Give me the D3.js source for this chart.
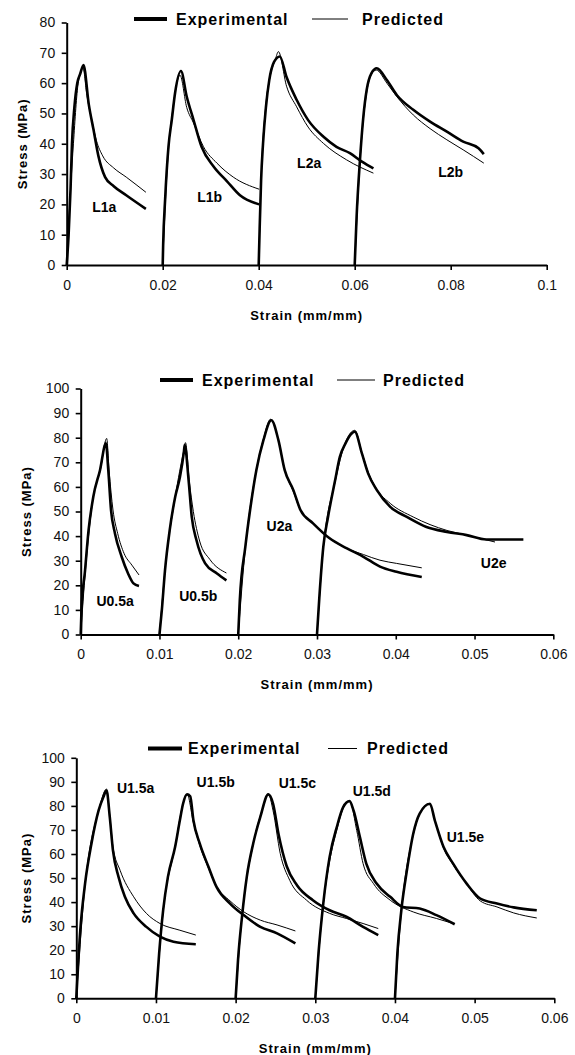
<!DOCTYPE html>
<html>
<head>
<meta charset="utf-8">
<script src="https://cdn.jsdelivr.net/npm/d3@7/dist/d3.min.js"></script>
<style>
    body { margin: 0; background: #fff; }
    svg { display: block; font-family: "Liberation Sans", Arial, sans-serif; }
</style>
</head>
<body>
<svg width="575" height="1055"></svg>
<script>
/* global d3 */

// ---- tick values ----
const xTicksTop = [0, 0.02, 0.04, 0.06, 0.08, 0.1];
const yTicksTop = [0, 10, 20, 30, 40, 50, 60, 70, 80];
const xTicksMid = [0, 0.01, 0.02, 0.03, 0.04, 0.05, 0.06];
const yTicksMid = [0, 10, 20, 30, 40, 50, 60, 70, 80, 90, 100];
const xTicksBot = [0, 0.01, 0.02, 0.03, 0.04, 0.05, 0.06];
const yTicksBot = [0, 10, 20, 30, 40, 50, 60, 70, 80, 90, 100];

// ---- [strain, stress] pairs, experimental + predicted ----
const l1aExp = [[0, 0], [0.0004, 10], [0.0008, 25], [0.0011, 40], [0.0016, 52], [0.0022, 60], [0.0028, 63], [0.0035, 66], [0.0046, 53], [0.0056, 44.5], [0.0066, 36], [0.008, 29], [0.0098, 26], [0.0124, 23], [0.0165, 18.5]];
const l1aPred = [[0, 0], [0.0003, 10], [0.0014, 40], [0.0024, 60], [0.0034, 65], [0.0042, 56], [0.0052, 48], [0.0062, 41], [0.0075, 36], [0.0098, 32], [0.0124, 29], [0.0165, 24]];
const l1bExp = [[0.02, 0], [0.0201, 7], [0.0205, 21.5], [0.0212, 39], [0.0219, 48], [0.0226, 57], [0.0238, 64], [0.025, 55.6], [0.0264, 48], [0.0281, 39], [0.0306, 32.5], [0.0334, 27.6], [0.0361, 23], [0.0401, 20]];
const l1bPred = [[0.02, 0], [0.0206, 22], [0.0213, 40], [0.022, 50], [0.0227, 58], [0.0236, 62.6], [0.025, 52], [0.0264, 46.9], [0.0285, 39], [0.0313, 33.6], [0.0347, 29], [0.0401, 25]];
const l2aExp = [[0.04, 0], [0.0402, 12], [0.0405, 28], [0.0409, 40], [0.0415, 52], [0.0422, 61], [0.0432, 67], [0.0444, 68.8], [0.0458, 62], [0.0479, 54.5], [0.0503, 47.8], [0.0535, 42.3], [0.0562, 39], [0.059, 36.9], [0.0615, 34.1], [0.0639, 31.9]];
const l2aPred = [[0.04, 0], [0.0405, 28], [0.0415, 53], [0.0425, 63], [0.0435, 68], [0.0441, 70.4], [0.0458, 59], [0.0479, 52.2], [0.0503, 45.5], [0.0535, 40.1], [0.0583, 34.7], [0.0639, 30.3]];
const l2bExp = [[0.06, 0], [0.0604, 16], [0.0611, 34.7], [0.0618, 48.9], [0.0625, 57.8], [0.0635, 63.3], [0.0646, 64.9], [0.0667, 61], [0.0688, 56], [0.0722, 51.2], [0.0757, 47.3], [0.0792, 44], [0.0826, 40.7], [0.0858, 38.5], [0.0869, 36.6]];
const l2bPred = [[0.06, 0], [0.0611, 34], [0.0625, 57], [0.0635, 63], [0.0645, 64.3], [0.0667, 60], [0.0688, 55.5], [0.0722, 49.5], [0.0757, 45], [0.0792, 41.3], [0.0826, 38], [0.0869, 33.6]];

const u05aExp = [[0, 0], [0.0001, 9.9], [0.00055, 26], [0.001, 42.4], [0.0016, 56], [0.00245, 66.8], [0.0032, 77.7], [0.0035, 66.9], [0.00385, 50.6], [0.00435, 41.1], [0.0052, 31.6], [0.006, 24.9], [0.0067, 20.8], [0.0074, 19.7]];
const u05aPred = [[0, 0], [0.0006, 26], [0.0016, 56], [0.0025, 67], [0.0033, 79.7], [0.0036, 66.9], [0.0041, 50.6], [0.0047, 41], [0.0055, 33], [0.0065, 28.2], [0.0074, 24.2]];
const u05bExp = [[0.01, 0], [0.0103, 9.9], [0.0107, 26], [0.0113, 42.4], [0.012, 56], [0.0126, 64], [0.0131, 74.2], [0.0132, 77], [0.0137, 62.7], [0.0141, 47.8], [0.0147, 38.3], [0.0158, 28.9], [0.0173, 24.8], [0.0185, 22]];
const u05bPred = [[0.01, 0], [0.0107, 26], [0.012, 56], [0.0131, 75], [0.0133, 78], [0.0138, 62], [0.0143, 50], [0.0151, 38], [0.0164, 30.5], [0.0185, 25]];
const u2aExp = [[0.02, 0], [0.0202, 14], [0.0209, 35.6], [0.0215, 50.5], [0.0223, 66.8], [0.0232, 79], [0.0242, 87.1], [0.0251, 79], [0.0259, 66.8], [0.027, 58.7], [0.0279, 50.6], [0.0295, 45.2], [0.0316, 39.1], [0.0338, 35], [0.0359, 31.6], [0.038, 27.6], [0.0401, 25.5], [0.0433, 23.4]];
const u2aPred = [[0.02, 0], [0.0209, 35], [0.0223, 67], [0.0232, 79.5], [0.0241, 87.5], [0.0251, 79], [0.0259, 67], [0.027, 58], [0.0279, 50.5], [0.0295, 45], [0.0316, 39], [0.0338, 35], [0.0359, 32.5], [0.038, 30.2], [0.0401, 28.9], [0.0433, 27.1]];
const u2eExp = [[0.03, 0], [0.0303, 15.2], [0.0308, 35.6], [0.0314, 47.8], [0.0323, 62.7], [0.0329, 72.2], [0.0336, 77.6], [0.0344, 81.7], [0.0348, 82.4], [0.0357, 73.6], [0.0365, 65.4], [0.0376, 58.7], [0.0393, 51.9], [0.0414, 47.8], [0.0439, 43.7], [0.0465, 41.7], [0.049, 40.4], [0.0515, 38.6], [0.0562, 38.6]];
const u2ePred = [[0.03, 0], [0.0308, 35], [0.0323, 62], [0.0336, 78], [0.0348, 83], [0.0357, 74], [0.0365, 66], [0.0376, 59], [0.0393, 53.3], [0.0422, 47.8], [0.0465, 42.3], [0.049, 40.4], [0.0526, 37.6]];

const u15aExp = [[0, 0], [0.0005, 28.3], [0.0011, 47.7], [0.0019, 64.3], [0.0028, 78.1], [0.0034, 83.7], [0.0038, 86.4], [0.0042, 75.4], [0.0046, 61.5], [0.0053, 50.5], [0.0061, 42.2], [0.0072, 35.3], [0.0088, 29.7], [0.0105, 25.6], [0.0122, 23.5], [0.015, 22.5]];
const u15aPred = [[0, 0], [0.0011, 47], [0.0028, 78], [0.0038, 87], [0.0042, 76], [0.0046, 63], [0.0055, 53.2], [0.0072, 42.2], [0.0088, 35.3], [0.0105, 31.1], [0.013, 28.3], [0.015, 26.3]];
const u15bExp = [[0.01, 0], [0.0104, 18.7], [0.0109, 36.6], [0.0115, 50.5], [0.0124, 62.9], [0.013, 74], [0.0134, 80.9], [0.0139, 84.8], [0.0143, 84], [0.0147, 74], [0.0155, 64.3], [0.0166, 54.6], [0.0176, 46.3], [0.0193, 39.4], [0.021, 34.6], [0.0231, 29.7], [0.0252, 27], [0.0275, 22.8]];
const u15bPred = [[0.01, 0], [0.0109, 36], [0.0124, 63], [0.0134, 81], [0.0139, 85], [0.0147, 73], [0.0155, 63.5], [0.0166, 54], [0.0176, 46.5], [0.0193, 40.5], [0.021, 36], [0.0231, 32.5], [0.0252, 30.5], [0.0275, 28]];
const u15cExp = [[0.02, 0], [0.0203, 15.9], [0.0208, 33.9], [0.0214, 50.5], [0.0222, 64.3], [0.0231, 75.4], [0.0241, 84.8], [0.0247, 80.9], [0.0254, 68], [0.0264, 55], [0.0277, 47], [0.0297, 40.8], [0.0318, 36.6], [0.0339, 33.9], [0.036, 29.7], [0.0379, 26.3]];
const u15cPred = [[0.02, 0], [0.0208, 34], [0.0222, 64], [0.0233, 78], [0.0241, 85], [0.0247, 78], [0.0256, 60.2], [0.0268, 49], [0.0289, 40.8], [0.0318, 35.3], [0.0339, 33.2], [0.036, 31.1], [0.0379, 29]];
const u15dExp = [[0.03, 0], [0.0304, 18.7], [0.031, 39.4], [0.0318, 58.8], [0.0327, 71.2], [0.0335, 79.5], [0.0343, 82], [0.0348, 78.1], [0.0356, 67], [0.0364, 56], [0.0377, 47.7], [0.0394, 42.2], [0.041, 38], [0.0431, 37.3], [0.0452, 34.6], [0.0475, 30.8]];
const u15dPred = [[0.03, 0], [0.031, 39], [0.0318, 57], [0.0327, 70], [0.0335, 79], [0.0343, 82], [0.0352, 69.8], [0.036, 56], [0.0373, 47.7], [0.0394, 40.8], [0.0423, 35.9], [0.0452, 33.2], [0.0473, 31.1]];
const u15eExp = [[0.04, 0], [0.0403, 18.7], [0.0408, 36.6], [0.0415, 53.2], [0.0423, 68.5], [0.0431, 76.8], [0.0444, 80.9], [0.045, 74], [0.0461, 62.9], [0.0473, 56], [0.049, 47.7], [0.0507, 41.5], [0.0528, 39.4], [0.0549, 37.8], [0.0578, 36.6]];
const u15ePred = [[0.04, 0], [0.0408, 36], [0.0423, 68], [0.0433, 78], [0.0443, 81], [0.045, 74], [0.0461, 62.5], [0.0473, 55.5], [0.049, 47.5], [0.0507, 40.5], [0.0528, 38], [0.0549, 35.5], [0.0578, 33.4]];

const namesTop = ["L1a", "L1b", "L2a", "L2b"];
const namesMid = ["U0.5a", "U0.5b", "U2a", "U2e"];
const namesBot = ["U1.5a", "U1.5b", "U1.5c", "U1.5d", "U1.5e"];

const FONT_TICK = 14;
const FONT_LABEL = 14;

// layout of the three stacked plots (pixels), label anchors in data units
const panels = [
    {
        left: 66.7, right: 546.7, top: 22.5, bottom: 265,
        xMax: 0.1, yMax: 80, xTicks: xTicksTop, yTicks: yTicksTop,
        exp: [l1aExp, l1bExp, l2aExp, l2bExp],
        pred: [l1aPred, l1bPred, l2aPred, l2bPred],
        names: namesTop,
        labelAt: [[0.0053, 19.1], [0.0272, 22.4], [0.048, 33.7], [0.0774, 30.7]],
        legend: { y: 19, exp: [134, 167, 176], pred: [312, 348, 362] },
        yTitleX: 22,
    },
    {
        left: 80.7, right: 553.3, top: 388.5, bottom: 634.5,
        xMax: 0.06, yMax: 100, xTicks: xTicksMid, yTicks: yTicksMid,
        exp: [u05aExp, u05bExp, u2aExp, u2eExp],
        pred: [u05aPred, u05bPred, u2aPred, u2ePred],
        names: namesMid,
        labelAt: [[0.002, 13.4], [0.0125, 15.8], [0.0236, 43.9], [0.0508, 29]],
        legend: { y: 380, exp: [160, 193, 202], pred: [337, 375, 383] },
        yTitleX: 26.5,
    },
    {
        left: 76.3, right: 554.3, top: 757.8, bottom: 998.3,
        xMax: 0.06, yMax: 100, xTicks: xTicksBot, yTicks: yTicksBot,
        exp: [u15aExp, u15bExp, u15cExp, u15dExp, u15eExp],
        pred: [u15aPred, u15bPred, u15cPred, u15dPred, u15ePred],
        names: namesBot,
        labelAt: [[0.0051, 87.3], [0.0151, 90], [0.0254, 89.5], [0.0347, 86.2], [0.0465, 67.2]],
        legend: { y: 748.5, exp: [148, 182, 188], pred: [328, 357, 367] },
        yTitleX: 26,
    },
];

const svg = d3.select("svg");

function styleAxis(g) {
    g.attr("font-family", null).attr("font-size", null);
    g.select(".domain").attr("stroke", "#000").attr("stroke-width", 2);
    g.selectAll(".tick line").attr("stroke", "#000").attr("stroke-width", 1.6);
    g.selectAll(".tick text")
        .attr("fill", "#111")
        .style("font-size", FONT_TICK + "px");
}

function drawPanel(p) {
    const x = d3.scaleLinear().domain([0, p.xMax]).range([p.left, p.right]);
    const y = d3.scaleLinear().domain([0, p.yMax]).range([p.bottom, p.top]);
    const g = svg.append("g");

    // strain always increases along a curve, so monotone smoothing is safe
    const line = d3.line()
        .x(d => x(d[0]))
        .y(d => y(d[1]))
        .curve(d3.curveMonotoneX);

    g.selectAll("path.pred")
        .data(p.pred)
        .enter().append("path")
        .attr("class", "pred")
        .attr("d", line)
        .attr("fill", "none")
        .attr("stroke", "#000")
        .attr("stroke-width", 1);

    g.selectAll("path.exp")
        .data(p.exp)
        .enter().append("path")
        .attr("class", "exp")
        .attr("d", line)
        .attr("fill", "none")
        .attr("stroke", "#000")
        .attr("stroke-width", 2.6)
        .attr("stroke-linejoin", "round");

    g.append("g")
        .attr("transform", `translate(0,${p.bottom})`)
        .call(d3.axisBottom(x)
            .tickValues(p.xTicks)
            .tickSize(5)
            .tickSizeOuter(0)
            .tickPadding(10)
            .tickFormat(d => String(+d.toFixed(3))))
        .call(styleAxis);

    g.append("g")
        .attr("transform", `translate(${p.left},0)`)
        .call(d3.axisLeft(y)
            .tickValues(p.yTicks)
            .tickSize(5)
            .tickSizeOuter(0)
            .tickPadding(6.5))
        .call(styleAxis);

    // specimen names
    g.selectAll("text.name")
        .data(p.names)
        .enter().append("text")
        .attr("class", "name")
        .attr("x", (d, i) => x(p.labelAt[i][0]))
        .attr("y", (d, i) => y(p.labelAt[i][1]))
        .attr("dy", "0.35em")
        .style("font-size", FONT_LABEL + "px")
        .style("font-weight", "bold")
        .text(d => d);

    // axis titles
    g.append("text")
        .attr("x", (p.left + p.right) / 2)
        .attr("y", p.bottom + 50)
        .attr("dy", "0.35em")
        .attr("text-anchor", "middle")
        .style("font-size", "13px")
        .style("font-weight", "bold")
        .style("letter-spacing", "1px")
        .text("Strain (mm/mm)");

    g.append("text")
        .attr("transform", `translate(${p.yTitleX},${(p.top + p.bottom) / 2}) rotate(-90)`)
        .attr("dy", "0.35em")
        .attr("text-anchor", "middle")
        .style("font-size", "13px")
        .style("font-weight", "bold")
        .style("letter-spacing", "1px")
        .text("Stress (MPa)");

    // legend
    const lg = p.legend;
    g.append("line")
        .attr("x1", lg.exp[0]).attr("x2", lg.exp[1])
        .attr("y1", lg.y).attr("y2", lg.y)
        .attr("stroke", "#000").attr("stroke-width", 4);
    g.append("line")
        .attr("x1", lg.pred[0]).attr("x2", lg.pred[1])
        .attr("y1", lg.y).attr("y2", lg.y)
        .attr("stroke", "#000").attr("stroke-width", 1);
    [["Experimental", lg.exp[2]], ["Predicted", lg.pred[2]]].forEach(([t, tx]) => {
        g.append("text")
            .attr("x", tx)
            .attr("y", lg.y)
            .attr("dy", "0.35em")
            .style("font-size", "16px")
            .style("font-weight", "bold")
            .style("letter-spacing", "1px")
            .text(t);
    });
}

panels.forEach(drawPanel);
</script>
</body>
</html>
